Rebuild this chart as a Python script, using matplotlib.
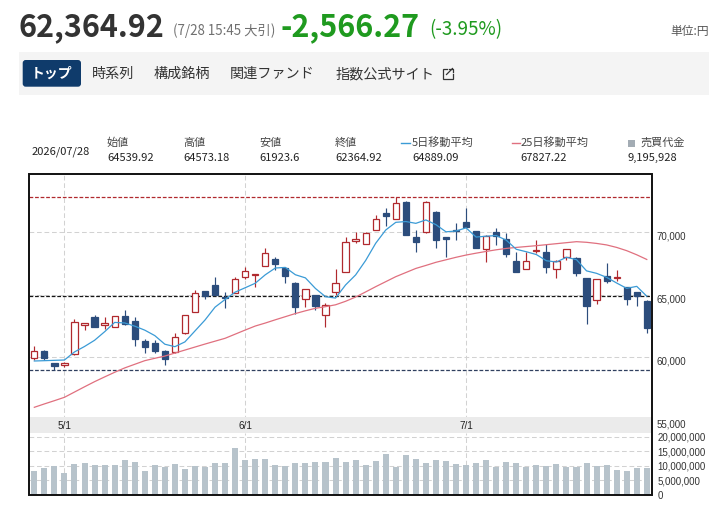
import matplotlib
matplotlib.use("Agg")
import matplotlib.pyplot as plt
import numpy as np
from matplotlib.patches import Rectangle, FancyBboxPatch
from matplotlib.transforms import blended_transform_factory, ScaledTranslation

plt.rcParams['lines.scale_dashes'] = False
JP = ["Noto Sans CJK JP", "DejaVu Sans"]
AXF = ["Liberation Sans", "DejaVu Sans"]

# ---------------- data ----------------
opens = [59916, 60529, 59515, 59382, 60262, 62609, 63196, 62609, 62422, 63276,
         62876, 61276, 61169, 60529, 60396, 61916, 63650, 65276, 65756, 64850,
         65116, 66396, 66610, 67303, 67837, 67117, 65916, 64663, 64983, 63356,
         65196, 66796, 69277, 69063, 70184, 71517, 71037, 72397, 69597, 70050,
         71597, 69597, 70184, 70797, 70103, 68637, 69997, 69437, 67703, 67036,
         68530, 68423, 67036, 67997, 67943, 66343, 64583, 66503, 66370, 65623,
         65196, 64539.92]
highs = [60902, 60582, 59570, 59622, 63036, 62740, 63383, 63196, 63300, 63783,
         63196, 61436, 61382, 60582, 61916, 63400, 65383, 65276, 66450, 65250,
         66450, 67197, 66700, 68717, 68050, 67197, 66050, 65450, 64990, 64316,
         67036, 69650, 69997, 70050, 71384, 71917, 72797, 72531, 70184, 72531,
         71730, 69597, 70717, 71917, 70103, 69784, 70317, 69917, 68450, 68450,
         69383, 69063, 67783, 68690, 68050, 66343, 66263, 67570, 66983, 65623,
         65196, 64573.18]
lows = [59782, 59782, 58982, 59249, 60182, 62183, 62396, 62262, 62422, 62600,
        60929, 60369, 60316, 59382, 60316, 61900, 63596, 64636, 64983, 63916,
        65116, 66290, 65596, 67303, 66983, 65916, 63463, 64050, 63783, 62396,
        64983, 66796, 69117, 69063, 70184, 70530, 71037, 69757, 68450, 69917,
        68717, 68050, 69383, 70450, 68717, 67650, 68983, 68050, 66796, 67036,
        68317, 66716, 66316, 67783, 66530, 62663, 64236, 65970, 66130, 64210,
        64130, 61923.6]
closes = [60529, 59916, 59302, 59542, 62850, 62716, 62396, 62716, 63276, 62636,
          61436, 60796, 60529, 59836, 61649, 63356, 65170, 64903, 64983, 64716,
          66290, 66930, 66690, 68370, 67437, 66530, 63996, 65436, 64130, 64156,
          65970, 69250, 69437, 69917, 71037, 71277, 72317, 69757, 69197, 72397,
          69383, 69463, 70080, 70450, 68717, 69730, 69730, 68237, 66796, 67730,
          68610, 67250, 67730, 68690, 66770, 64130, 66263, 66130, 66423, 64636,
          64930, 62364.92]
ma5 = [59704, 59730, 59757, 59784, 60428, 60865, 61361, 62044, 62791, 62748,
       62492, 62172, 61735, 61047, 60849, 61233, 62108, 62983, 64012, 64626,
       65212, 65564, 65922, 66599, 67143, 67191, 66605, 66354, 65506, 64850,
       64738, 65788, 66589, 67746, 69122, 70184, 70797, 70861, 70717, 70989,
       70610, 70039, 70104, 70355, 69619, 69688, 69741, 69373, 68642, 68445,
       68221, 67725, 67623, 68002, 67810, 66914, 66717, 66397, 65943, 65516,
       65676, 64889.09]
ma25 = [56000, 56270, 56530, 56800, 57220, 57640, 58050, 58430, 58800, 59150,
        59440, 59730, 59920, 60100, 60340, 60580, 60820, 61060, 61290, 61520,
        61850, 62180, 62500, 62740, 63000, 63250, 63500, 63720, 63920, 64050,
        64200, 64480, 64820, 65230, 65650, 66050, 66450, 66780, 67110, 67350,
        67600, 67800, 68000, 68180, 68330, 68470, 68600, 68710, 68790, 68860,
        68930, 69010, 69090, 69170, 69250, 69200, 69110, 68990, 68790, 68530,
        68200, 67827.22]
volume = [8350000, 9380000, 10070000, 7670000, 10760000, 11100000, 10410000, 10410000, 10410000, 12130000,
          11440000, 8350000, 10410000, 9730000, 10760000, 9040000, 10070000, 9730000, 11100000, 11100000,
          16250000, 12130000, 12470000, 12470000, 10410000, 10070000, 11100000, 11100000, 11440000, 11440000,
          12810000, 11440000, 12130000, 10410000, 11780000, 14190000, 9730000, 13840000, 12470000, 11100000,
          12130000, 11780000, 10760000, 10410000, 11100000, 12130000, 9730000, 11440000, 11100000, 9730000,
          10410000, 10070000, 10760000, 9730000, 9730000, 11100000, 10070000, 10410000, 8700000, 8350000,
          9380000, 9195928]
month_labels = ["5/1", "6/1", "7/1"]
month_index = [3, 21, 43]
price_ticks = [55000, 60000, 65000, 70000]
volume_ticks = [0, 5000000, 10000000, 15000000, 20000000]
prev_close = 64931.19

last_price = "62,364.92"
time_note = "(7/28 15:45 大引)"
change = "-2,566.27"
change_pct = "(-3.95%)"
unit = "単位:円"
tabs = ["時系列", "構成銘柄", "関連ファンド", "指数公式サイト"]
info_date = "2026/07/28"
info_labels = ["始値", "高値", "安値", "終値"]
info_values = ["64539.92", "64573.18", "61923.6", "62364.92"]
ma5_value = "64889.09"
ma25_value = "67827.22"
vol_value = "9,195,928"

# ---------------- style ----------------
RED = "#b0292e"
NAVY = "#2c4d7c"
BLUE = "#3b9bd6"
PINK = "#e0707f"
GRID = "#d2d2d2"
VOLC = "#b7c3cb"
GREEN = "#1f9a1f"

W, H = 726, 512
fig = plt.figure(figsize=(W / 100, H / 100), dpi=100)
fig.patch.set_facecolor("white")


def rect(l, t, r, b):
    return [l / W, 1 - b / H, (r - l) / W, (b - t) / H]


L, R = 29.3, 651.8
ax = fig.add_axes(rect(L, 174, R, 419.8))
axv = fig.add_axes(rect(L, 433, R, 495))
n = len(closes)
x = np.arange(n)
for a in (ax, axv):
    a.set_xlim(-0.5, n - 0.5)
    for s in a.spines.values():
        s.set_visible(False)
    a.set_xticks([])
    a.set_yticks([])
    a.patch.set_alpha(0)
ax.set_ylim(55000, 74664)
axv.set_ylim(0, 21.27e6)

gdash = (0, (3.4, 2.0))
for v in price_ticks[1:]:
    ax.axhline(v, color=GRID, lw=0.75, ls=gdash, zorder=1)
for v in volume_ticks[1:]:
    axv.axhline(v, color=GRID, lw=0.75, ls=gdash, zorder=1)
for i in month_index:
    ax.axvline(i, color=GRID, lw=0.75, ls=gdash, zorder=1)
    axv.axvline(i, color=GRID, lw=0.75, ls=gdash, zorder=1)

rdash = (0, (2.7, 1.3))
ax.axhline(prev_close, color="#151515", lw=0.9, ls=rdash, zorder=1.5)
ax.axhline(max(highs), color=RED, lw=0.9, ls=rdash, zorder=1.5)
ax.axhline(min(lows), color="#2f3f5f", lw=0.9, ls=rdash, zorder=1.5)

o = np.array(opens, float)
c = np.array(closes, float)
hi = np.array(highs, float)
lo = np.array(lows, float)
up = c >= o
bottoms = np.minimum(o, c)
heights = np.abs(c - o)
ax.vlines(x[up], lo[up], hi[up], color=RED, lw=0.85, zorder=2)
ax.vlines(x[~up], lo[~up], hi[~up], color=NAVY, lw=0.85, zorder=2)
ax.bar(x[up], heights[up], bottom=bottoms[up], width=0.62, facecolor="white",
       edgecolor=RED, lw=0.9, zorder=3)
ax.bar(x[~up], heights[~up], bottom=bottoms[~up], width=0.62, facecolor=NAVY,
       edgecolor=NAVY, lw=0.9, zorder=3)

ax.plot(x, ma25, color=PINK, lw=0.9, zorder=4)
ax.plot(x, ma5, color=BLUE, lw=0.9, zorder=4)

axv.bar(x, volume, width=0.6, color=VOLC, zorder=2)

# right-side labels
tp = blended_transform_factory(ax.transAxes, ax.transData) + \
    ScaledTranslation(4.9 / 100, -4.4 / 100, fig.dpi_scale_trans)
for v in price_ticks:
    ax.text(1.0, v, f"{v:,}", transform=tp, ha="left", va="center",
            fontsize=7, color="#333333", family=AXF, clip_on=False)
tv = blended_transform_factory(axv.transAxes, axv.transData) + \
    ScaledTranslation(5.9 / 100, -1.0 / 100, fig.dpi_scale_trans)
for v in volume_ticks:
    axv.text(1.0, v, f"{v:,}", transform=tv, ha="left", va="center",
             fontsize=7, color="#333333", family=AXF, clip_on=False)

# ---------------- overlay (pixel coordinates) ----------------
ov = fig.add_axes([0, 0, 1, 1], zorder=10)
ov.set_xlim(0, W)
ov.set_ylim(H, 0)
ov.axis("off")
ov.patch.set_alpha(0)

ov.add_patch(Rectangle((L, 417.3), R - L, 15.4, facecolor="#ebebeb",
                       edgecolor="none", zorder=1))
tdate = blended_transform_factory(ax.transData, ov.transData)
for lab, i in zip(month_labels, month_index):
    ov.text(i, 426, lab, transform=tdate, ha="center", va="center",
            fontsize=7.2, color="#222222", family=AXF, zorder=2)
ov.add_patch(Rectangle((L, 174), R - L, 495 - 174, fill=False,
                       edgecolor="#111111", lw=1.4, zorder=3))

# header
ov.text(19, 36, last_price, fontsize=22, weight="bold", color="#333333",
        family=JP, va="baseline", ha="left")
ov.text(173, 35, time_note, fontsize=9.6, color="#707070", family=JP,
        va="baseline", ha="left")
ov.text(280, 36, change, fontsize=22, weight="bold", color=GREEN,
        family=JP, va="baseline", ha="left")
ov.text(429, 35.5, change_pct, fontsize=13.5, color=GREEN, family=JP,
        va="baseline", ha="left")
ov.text(709, 35, unit, fontsize=8.5, color="#555555", family=JP,
        va="baseline", ha="right")

# tab bar
ov.add_patch(Rectangle((19, 52), 690, 43, facecolor="#f4f4f4", edgecolor="none"))
ov.add_patch(FancyBboxPatch((22.7, 60), 58.3, 26.7,
                            boxstyle="round,pad=0,rounding_size=3",
                            facecolor="#0f3b6b", edgecolor="none"))
ov.text(52, 73.5, "トップ", fontsize=10, weight="bold", color="white",
        family=JP, ha="center", va="center")
for t, tx in zip(tabs, [92, 154, 230, 336]):
    ov.text(tx, 74, t, fontsize=10.2, color="#333333", family=JP,
            ha="left", va="center")
# external link icon
ov.plot([447, 442.5, 442.5, 452.5, 452.5], [68.5, 68.5, 79, 79, 74],
        color="#333333", lw=0.9, solid_joinstyle="miter")
ov.plot([446.5, 452.5], [74.5, 68.5], color="#333333", lw=0.9)
ov.plot([449, 452.5, 452.5], [68.5, 68.5, 72], color="#333333", lw=0.9)

# info row
ov.text(32, 152, info_date, fontsize=8, color="#222222", family=JP,
        ha="left", va="center")
for lab, val, tx in zip(info_labels, info_values, [107, 183, 259, 335]):
    ov.text(tx, 143, lab, fontsize=8, color="#444444", family=JP,
            ha="left", va="center")
    ov.text(tx, 158, val, fontsize=8, color="#222222", family=JP,
            ha="left", va="center")
ov.plot([401, 410], [143, 143], color=BLUE, lw=1.0)
ov.text(412, 143, "5日移動平均", fontsize=8, color="#444444", family=JP,
        ha="left", va="center")
ov.text(412, 158, ma5_value, fontsize=8, color="#222222", family=JP,
        ha="left", va="center")
ov.plot([512, 520], [143, 143], color=PINK, lw=1.0)
ov.text(521, 143, "25日移動平均", fontsize=8, color="#444444", family=JP,
        ha="left", va="center")
ov.text(520, 158, ma25_value, fontsize=8, color="#222222", family=JP,
        ha="left", va="center")
ov.add_patch(Rectangle((628, 139.5), 7, 7, facecolor="#a3acb4", edgecolor="none"))
ov.text(640, 143, "売買代金", fontsize=8, color="#444444", family=JP,
        ha="left", va="center")
ov.text(628, 158, vol_value, fontsize=8, color="#222222", family=JP,
        ha="left", va="center")

fig.savefig("out.png", dpi=100, facecolor="white")
